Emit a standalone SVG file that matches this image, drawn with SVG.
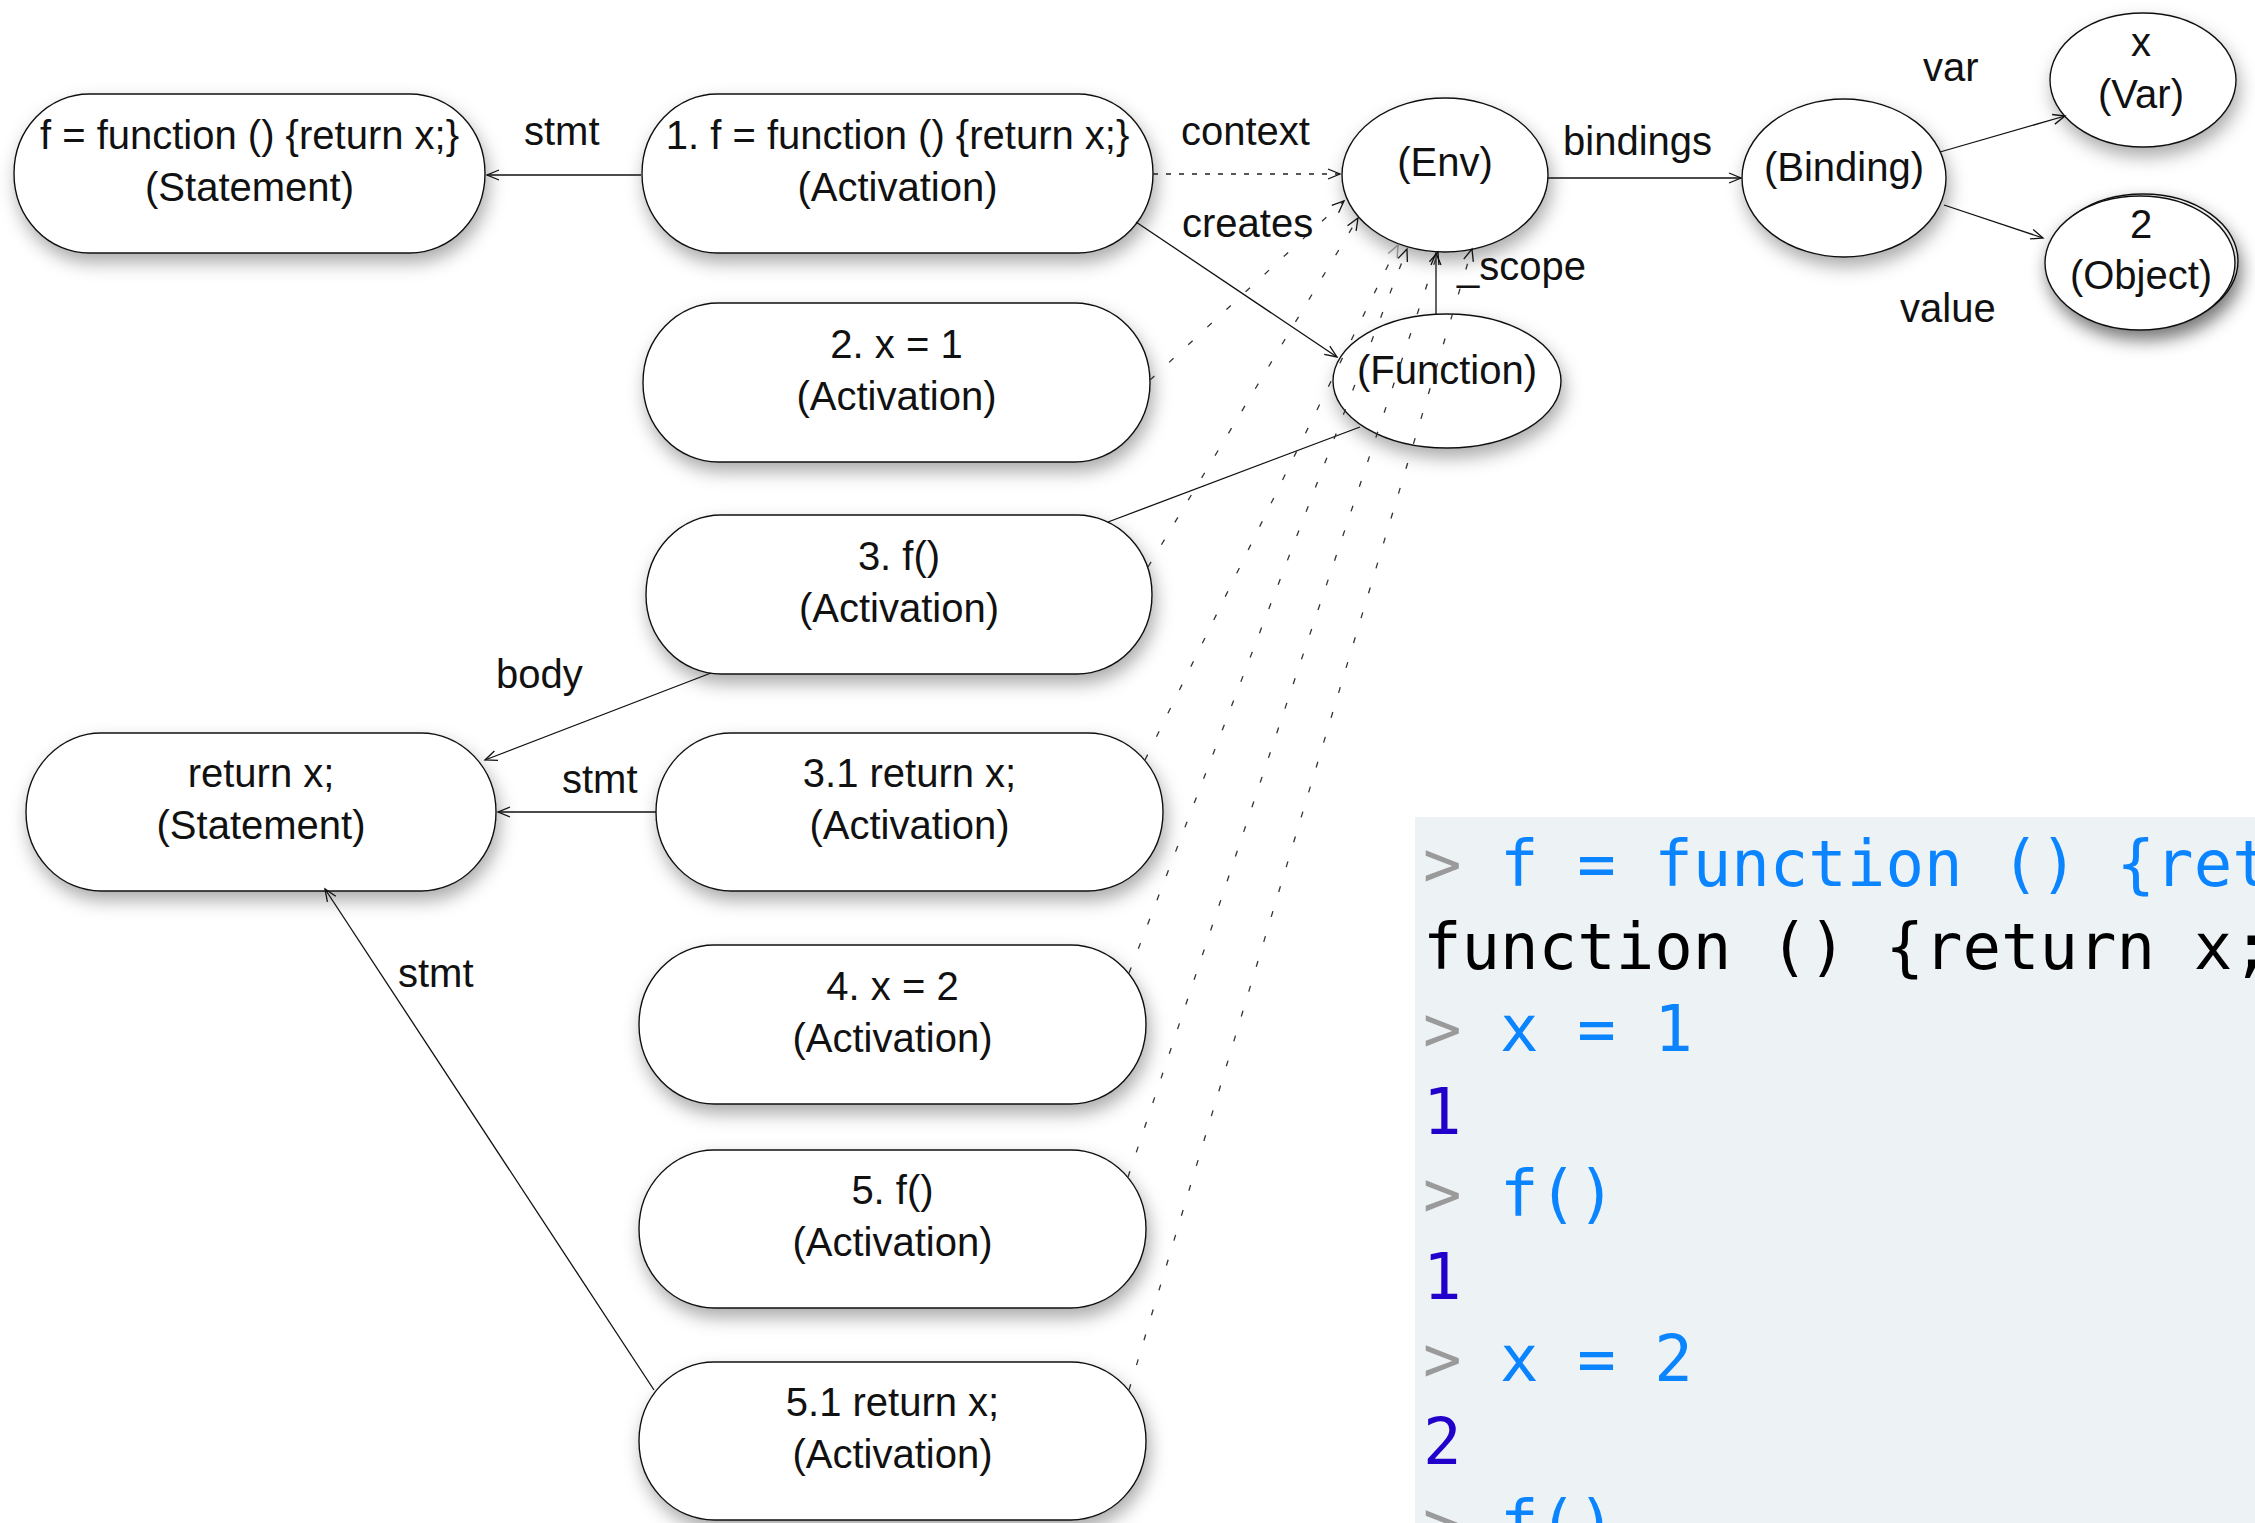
<svg xmlns="http://www.w3.org/2000/svg" width="2255" height="1523" viewBox="0 0 2255 1523">
  <defs>
    <filter id="shadow" x="-20%" y="-30%" width="140%" height="170%">
      <feDropShadow dx="3" dy="9" stdDeviation="9" flood-color="#000" flood-opacity="0.33"/>
    </filter>
    <marker id="arrow" markerUnits="userSpaceOnUse" markerWidth="14" markerHeight="12" refX="12" refY="5" orient="auto" overflow="visible">
      <path d="M0,0 L12,5 L0,10" fill="none" stroke="#111" stroke-width="1.3"/>
    </marker>
    <marker id="arrow-grey" markerUnits="userSpaceOnUse" markerWidth="14" markerHeight="12" refX="12" refY="5" orient="auto" overflow="visible">
      <path d="M0,0 L12,5 L0,10" fill="none" stroke="#8a8a8a" stroke-width="1.3"/>
    </marker>
  </defs>
  <style>
    .shape { fill: #fff; stroke: #111; stroke-width: 1.4; filter: url(#shadow); }
    .lbl { font-family: "Liberation Sans", Arial, sans-serif; font-size: 40px; fill: #111; text-anchor: middle; }
    .elbl { font-family: "Liberation Sans", Arial, sans-serif; font-size: 40px; fill: #111; }
    .edge { fill: none; stroke: #111; stroke-width: 1.3; marker-end: url(#arrow); }
    .plain { fill: none; stroke: #111; stroke-width: 1.3; }
    .ctx { fill: none; stroke: #222; stroke-width: 1.3; stroke-dasharray: 5 8; marker-end: url(#arrow); }
    .env { fill: none; stroke: #333; stroke-width: 1.3; stroke-dasharray: 6 20; marker-end: url(#arrow); }
    .code { font-family: "DejaVu Sans Mono", "Liberation Mono", monospace; font-size: 64px; }
    .prompt { fill: #9a9a9a; }
    .input { fill: #0a84ff; }
    .output { fill: #000; }
    .value { fill: #2200cc; }
  </style>

  <rect x="0" y="0" width="2255" height="1523" fill="#fff"/>

  <!-- console transcript panel -->
  <g id="console">
    <rect x="1415" y="817" width="840" height="706" fill="#edf2f5"/>
    <text class="code" x="1423" y="886" xml:space="preserve"><tspan class="prompt">&gt;</tspan><tspan class="input"> f = function () {ret</tspan></text>
    <text class="code output" x="1423" y="968.5">function () {return x;</text>
    <text class="code" x="1423" y="1051" xml:space="preserve"><tspan class="prompt">&gt;</tspan><tspan class="input"> x = 1</tspan></text>
    <text class="code value" x="1423" y="1133.5">1</text>
    <text class="code" x="1423" y="1216" xml:space="preserve"><tspan class="prompt">&gt;</tspan><tspan class="input"> f()</tspan></text>
    <text class="code value" x="1423" y="1298.5">1</text>
    <text class="code" x="1423" y="1381" xml:space="preserve"><tspan class="prompt">&gt;</tspan><tspan class="input"> x = 2</tspan></text>
    <text class="code value" x="1423" y="1463.5">2</text>
    <text class="code" x="1423" y="1546" xml:space="preserve"><tspan class="prompt">&gt;</tspan><tspan class="input"> f()</tspan></text>
  </g>

  <!-- statement and activation nodes -->
  <g id="stmt-fdef">
    <rect class="shape" x="14" y="94" width="471" height="159" rx="75" ry="79.5"/>
    <text class="lbl" x="249.5" y="148.5">f = function () {return x;}</text>
    <text class="lbl" x="249.5" y="200.5">(Statement)</text>
  </g>
  <g id="act-1">
    <rect class="shape" x="642" y="94" width="511" height="159" rx="75" ry="79.5"/>
    <text class="lbl" x="897.5" y="148.5">1. f = function () {return x;}</text>
    <text class="lbl" x="897.5" y="200.5">(Activation)</text>
  </g>
  <g id="act-2">
    <rect class="shape" x="643" y="303" width="507" height="159" rx="75" ry="79.5"/>
    <text class="lbl" x="896.5" y="357.5">2. x = 1</text>
    <text class="lbl" x="896.5" y="409.5">(Activation)</text>
  </g>
  <g id="act-3">
    <rect class="shape" x="646" y="515" width="506" height="159" rx="75" ry="79.5"/>
    <text class="lbl" x="899" y="569.5">3. f()</text>
    <text class="lbl" x="899" y="621.5">(Activation)</text>
  </g>
  <g id="stmt-return">
    <rect class="shape" x="26" y="733" width="470" height="158" rx="75" ry="79"/>
    <text class="lbl" x="261" y="787">return x;</text>
    <text class="lbl" x="261" y="839">(Statement)</text>
  </g>
  <g id="act-3-1">
    <rect class="shape" x="656" y="733" width="507" height="158" rx="75" ry="79"/>
    <text class="lbl" x="909.5" y="787">3.1 return x;</text>
    <text class="lbl" x="909.5" y="839">(Activation)</text>
  </g>
  <g id="act-4">
    <rect class="shape" x="639" y="945" width="507" height="159" rx="75" ry="79.5"/>
    <text class="lbl" x="892.5" y="999.5">4. x = 2</text>
    <text class="lbl" x="892.5" y="1051.5">(Activation)</text>
  </g>
  <g id="act-5">
    <rect class="shape" x="639" y="1150" width="507" height="158" rx="75" ry="79"/>
    <text class="lbl" x="892.5" y="1204">5. f()</text>
    <text class="lbl" x="892.5" y="1256">(Activation)</text>
  </g>
  <g id="act-5-1">
    <rect class="shape" x="639" y="1362" width="507" height="158" rx="75" ry="79"/>
    <text class="lbl" x="892.5" y="1416">5.1 return x;</text>
    <text class="lbl" x="892.5" y="1468">(Activation)</text>
  </g>

  <!-- environment objects -->
  <g id="env">
    <ellipse class="shape" cx="1445" cy="175" rx="103" ry="77"/>
    <text class="lbl" x="1445" y="176">(Env)</text>
  </g>
  <g id="function">
    <ellipse class="shape" cx="1447" cy="381" rx="114" ry="67"/>
    <text class="lbl" x="1447" y="384">(Function)</text>
  </g>
  <g id="binding">
    <ellipse class="shape" cx="1844" cy="178" rx="102" ry="79"/>
    <text class="lbl" x="1844" y="181">(Binding)</text>
  </g>
  <g id="var-x">
    <ellipse class="shape" cx="2143" cy="80" rx="93" ry="67"/>
    <text class="lbl" x="2141" y="56">x</text>
    <text class="lbl" x="2141" y="108">(Var)</text>
  </g>
  <g id="object-2">
    <ellipse class="shape" cx="2143" cy="261" rx="95" ry="67"/>
    <ellipse class="shape" cx="2140" cy="263" rx="95" ry="67"/>
    <text class="lbl" x="2141" y="238">2</text>
    <text class="lbl" x="2141" y="289">(Object)</text>
  </g>

  <!-- connectors -->
  <g id="connectors">
    <line class="edge" x1="641" y1="175" x2="487" y2="175"/>
    <line class="ctx" x1="1153" y1="174" x2="1340" y2="174"/>
    <line class="edge" x1="1136" y1="222" x2="1337" y2="357"/>
    <line class="edge" x1="1436" y1="314" x2="1436" y2="253"/>
    <line class="plain" x1="1108" y1="522" x2="1360" y2="427"/>
    <line class="edge" x1="711" y1="673" x2="485" y2="760"/>
    <line class="edge" x1="656" y1="812" x2="498" y2="812"/>
    <line class="edge" x1="654" y1="1390" x2="325" y2="889"/>
    <line class="edge" x1="1548" y1="178" x2="1741" y2="178"/>
    <line class="edge" x1="1940" y1="152" x2="2065" y2="116"/>
    <line class="edge" x1="1944" y1="205" x2="2043" y2="238"/>

    <!-- each later activation points back at the environment -->
    <line class="env" x1="1150" y1="380" x2="1344" y2="201"/>
    <line class="env" x1="1148" y1="567" x2="1358" y2="218"/>
    <line class="env" x1="1145" y1="760" x2="1398" y2="245" style="marker-end:url(#arrow-grey)"/>
    <line class="env" x1="1129" y1="973" x2="1407" y2="249"/>
    <line class="env" x1="1128" y1="1177" x2="1438" y2="252"/>
    <line class="env" x1="1129" y1="1390" x2="1472" y2="249"/>

    <text class="elbl" x="524" y="145">stmt</text>
    <text class="elbl" x="1181" y="145">context</text>
    <text class="elbl" x="1182" y="237">creates</text>
    <text class="elbl" x="1457" y="280">_scope</text>
    <text class="elbl" x="1563" y="155">bindings</text>
    <text class="elbl" x="1923" y="81">var</text>
    <text class="elbl" x="1900" y="322">value</text>
    <text class="elbl" x="496" y="688">body</text>
    <text class="elbl" x="562" y="793">stmt</text>
    <text class="elbl" x="398" y="987">stmt</text>
  </g>
</svg>
